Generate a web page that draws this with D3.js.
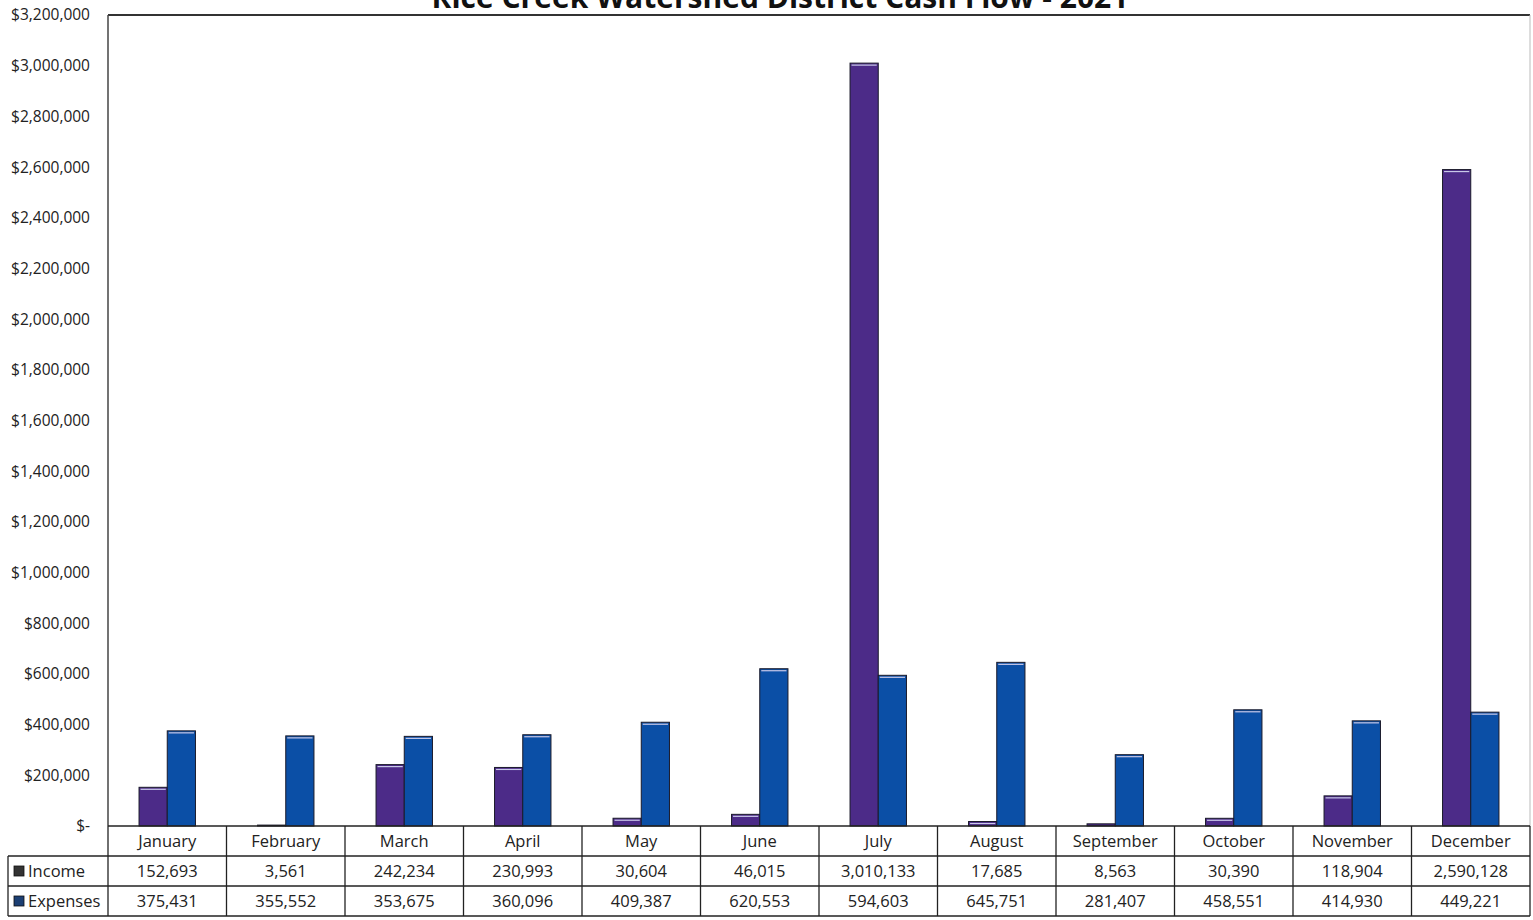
<!DOCTYPE html>
<html>
<head>
<meta charset="utf-8">
<script src="https://cdn.jsdelivr.net/npm/d3@7"></script>
<style>
  body { margin: 0; background: #fff; }
  svg { display: block; font-family: "Open Sans", "DejaVu Sans", sans-serif; }
</style>
</head>
<body>
<svg id="chart" width="1533" height="920"></svg>
<script>
var months = ["January", "February", "March", "April", "May", "June", "July",
  "August", "September", "October", "November", "December"];
var income = [152693, 3561, 242234, 230993, 30604, 46015, 3010133,
  17685, 8563, 30390, 118904, 2590128];
var expenses = [375431, 355552, 353675, 360096, 409387, 620553, 594603,
  645751, 281407, 458551, 414930, 449221];
var seriesNames = ["Income", "Expenses"];
var seriesColors = ["#4c2b88", "#0b4fa6"];
var yTicks = d3.range(0, 3200001, 200000);

var svg = d3.select("#chart");
var plotLeft = 108, plotRight = 1530, plotTop = 15, zero = 826;
var rowH = 30;

var x0 = d3.scaleBand().domain(months).range([plotLeft, plotRight]);
var x1 = d3.scaleBand().domain(seriesNames).range([0, x0.bandwidth()]).paddingOuter(1.1);
var y = d3.scaleLinear().domain([0, 3200000]).range([zero, plotTop]);

var fmt = d3.format(",");

// title (cut off at the top like the original)
svg.append("text")
  .attr("x", 780)
  .attr("y", 8)
  .attr("text-anchor", "middle")
  .attr("font-size", "30px")
  .attr("font-weight", "bold")
  .attr("fill", "#111")
  .text("Rice Creek Watershed District Cash Flow - 2021");

// y axis labels
var yAxis = d3.axisLeft(y)
  .tickValues(yTicks)
  .tickSize(0)
  .tickPadding(18)
  .tickFormat(function(d) { return d === 0 ? "$-" : "$" + fmt(d); });

var ga = svg.append("g")
  .attr("transform", "translate(" + plotLeft + ",0)")
  .call(yAxis);
ga.select(".domain").remove();
ga.selectAll("text")
  .attr("font-size", "15.5px")
  .attr("fill", "#222")
  .attr("font-family", "'Open Sans', sans-serif");

// plot frame
svg.append("line").attr("x1", plotLeft).attr("x2", plotRight).attr("y1", plotTop).attr("y2", plotTop)
  .attr("stroke", "#333").attr("stroke-width", 2);
svg.append("line").attr("x1", plotRight).attr("x2", plotRight).attr("y1", plotTop).attr("y2", zero)
  .attr("stroke", "#bbb").attr("stroke-width", 1);
svg.append("line").attr("x1", plotLeft).attr("x2", plotLeft).attr("y1", plotTop).attr("y2", zero)
  .attr("stroke", "#444").attr("stroke-width", 1.5);

// bars
var data = months.map(function(m, i) {
  return { month: m, values: [income[i], expenses[i]] };
});

var groups = svg.selectAll(".grp")
  .data(data)
  .enter().append("g")
  .attr("class", "grp")
  .attr("transform", function(d) { return "translate(" + x0(d.month) + ",0)"; });

groups.selectAll("rect.bar")
  .data(function(d) { return d.values.map(function(v, j) { return { name: seriesNames[j], value: v, idx: j }; }); })
  .enter().append("rect")
  .attr("class", "bar")
  .attr("x", function(d) { return x1(d.name); })
  .attr("width", x1.bandwidth())
  .attr("y", function(d) { return y(d.value); })
  .attr("height", function(d) { return zero - y(d.value); })
  .attr("fill", function(d) { return seriesColors[d.idx]; })
  .attr("stroke", "#1a1a2a")
  .attr("stroke-width", 1);

// light top edge on each bar
groups.selectAll("line.hl")
  .data(function(d) {
    return d.values.map(function(v, j) { return { name: seriesNames[j], value: v }; })
      .filter(function(e) { return zero - y(e.value) > 4; });
  })
  .enter().append("line")
  .attr("class", "hl")
  .attr("x1", function(d) { return x1(d.name) + 1.5; })
  .attr("x2", function(d) { return x1(d.name) + x1.bandwidth() - 1.5; })
  .attr("y1", function(d) { return y(d.value) + 2; })
  .attr("y2", function(d) { return y(d.value) + 2; })
  .attr("stroke", "#c8c8e8")
  .attr("stroke-width", 1.2);

// data table
var tbl = svg.append("g");
var tableLeft = 8;
var rows = [income, expenses];

tbl.append("line").attr("x1", plotLeft).attr("x2", plotRight).attr("y1", zero).attr("y2", zero)
  .attr("stroke", "#222").attr("stroke-width", 1.5);
[1, 2, 3].forEach(function(r) {
  tbl.append("line")
    .attr("x1", tableLeft).attr("x2", plotRight)
    .attr("y1", zero + r * rowH).attr("y2", zero + r * rowH)
    .attr("stroke", "#222").attr("stroke-width", 1.3);
});
tbl.append("line").attr("x1", tableLeft).attr("x2", tableLeft)
  .attr("y1", zero + rowH).attr("y2", zero + 3 * rowH)
  .attr("stroke", "#222").attr("stroke-width", 1.3);
months.forEach(function(m) {
  tbl.append("line")
    .attr("x1", x0(m)).attr("x2", x0(m))
    .attr("y1", zero).attr("y2", zero + 3 * rowH)
    .attr("stroke", "#222").attr("stroke-width", 1.3);
});
tbl.append("line").attr("x1", plotRight).attr("x2", plotRight)
  .attr("y1", zero).attr("y2", zero + 3 * rowH)
  .attr("stroke", "#222").attr("stroke-width", 1.3);

// month labels
tbl.selectAll("text.month")
  .data(months)
  .enter().append("text")
  .attr("class", "month")
  .attr("x", function(d) { return x0(d) + x0.bandwidth() / 2; })
  .attr("y", zero + rowH / 2 + 6)
  .attr("text-anchor", "middle")
  .attr("font-size", "16.5px")
  .attr("fill", "#222")
  .text(function(d) { return d; });

// value rows
rows.forEach(function(vals, r) {
  tbl.selectAll("text.v" + r)
    .data(vals)
    .enter().append("text")
    .attr("class", "v" + r)
    .attr("x", function(d, i) { return x0(months[i]) + x0.bandwidth() / 2; })
    .attr("y", zero + (r + 1) * rowH + rowH / 2 + 6)
    .attr("text-anchor", "middle")
    .attr("font-size", "16.5px")
    .attr("fill", "#222")
    .text(function(d) { return fmt(d); });

  // legend key + name
  tbl.append("rect")
    .attr("x", tableLeft + 6)
    .attr("y", zero + (r + 1) * rowH + rowH / 2 - 5)
    .attr("width", 10).attr("height", 10)
    .attr("fill", r === 0 ? "#333" : "#1c3f73")
    .attr("stroke", "#111").attr("stroke-width", 0.8);
  tbl.append("text")
    .attr("x", tableLeft + 20)
    .attr("y", zero + (r + 1) * rowH + rowH / 2 + 6)
    .attr("font-size", "16.5px")
    .attr("fill", "#222")
    .text(seriesNames[r]);
});
</script>
</body>
</html>
